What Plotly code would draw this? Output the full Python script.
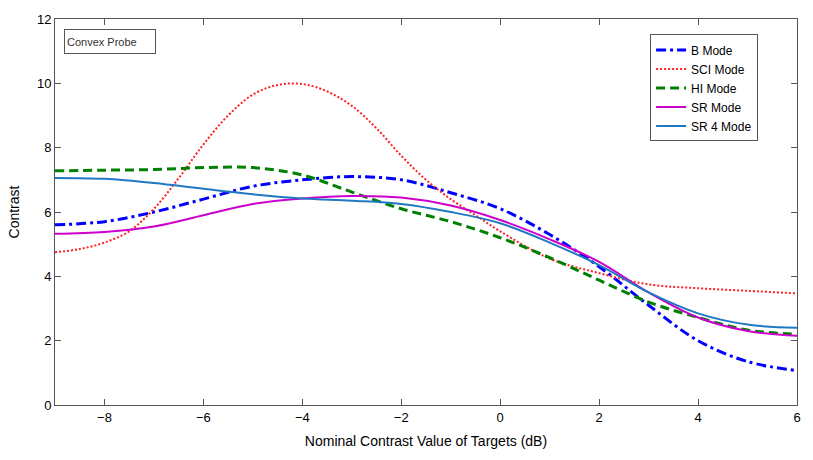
import plotly.graph_objects as go

# Nominal contrast of targets (dB)
x_db = [-9, -8, -7, -6, -5, -4, -3, -2, -1, 0, 1, 2, 3, 4, 5, 6]

# Measured contrast for each imaging mode
b_mode = [5.6, 5.7, 6.0, 6.4, 6.8, 7.0, 7.1, 7.0, 6.6, 6.1, 5.3, 4.3, 3.1, 2.0, 1.35, 1.07]
hi_mode = [7.28, 7.3, 7.32, 7.38, 7.38, 7.15, 6.62, 6.1, 5.7, 5.2, 4.58, 3.88, 3.2, 2.72, 2.33, 2.2]
sr_mode = [5.32, 5.38, 5.55, 5.9, 6.25, 6.42, 6.5, 6.45, 6.2, 5.75, 5.15, 4.45, 3.5, 2.72, 2.3, 2.15]
sr4_mode = [7.06, 7.03, 6.9, 6.72, 6.55, 6.42, 6.35, 6.25, 6.0, 5.65, 5.05, 4.35, 3.5, 2.85, 2.5, 2.4]

# SCI mode sampled more finely around its peak
x_sci = [-9, -8.5, -8, -7.5, -7, -6.5, -6, -5.5, -5, -4.5, -4, -3.5, -3, -2.5, -2,
         -1.5, -1, -0.5, 0, 1, 2, 3, 4, 5, 6]
sci_mode = [4.75, 4.85, 5.05, 5.4, 6.1, 7.05, 8.1, 9.0, 9.65, 9.95, 9.98, 9.75, 9.3, 8.6, 7.75,
            7.0, 6.4, 5.9, 5.4, 4.55, 4.1, 3.75, 3.63, 3.55, 3.47]

x_ticks = [-8, -6, -4, -2, 0, 2, 4, 6]
x_tick_text = ["\u22128", "\u22126", "\u22124", "\u22122", "0", "2", "4", "6"]
y_ticks = [0, 2, 4, 6, 8, 10, 12]

series = [
    ("B Mode", x_db, b_mode, "#0000ff", 3, "10px,4px,3px,4px"),
    ("SCI Mode", x_sci, sci_mode, "#ff2020", 2, "2px,2px"),
    ("HI Mode", x_db, hi_mode, "#008000", 3, "9px,5px"),
    ("SR Mode", x_db, sr_mode, "#cc00cc", 2, "solid"),
    ("SR 4 Mode", x_db, sr4_mode, "#1e78c2", 2, "solid"),
]

FONT = "Liberation Sans, Arial, sans-serif"

fig = go.Figure()
for name, xs, ys, color, width, dash in series:
    fig.add_trace(go.Scatter(
        x=xs, y=ys, mode="lines", name=name,
        line=dict(color=color, width=width, dash=dash, shape="spline", smoothing=1.0),
    ))

axis_common = dict(
    showgrid=False, zeroline=False, showline=True, linecolor="#555555", linewidth=1,
    mirror="ticks", ticks="inside", ticklen=6, tickcolor="#555555",
    tickfont=dict(family=FONT, size=13, color="black"),
)

fig.update_xaxes(
    range=[-9, 6], tickvals=x_ticks, ticktext=x_tick_text,
    title=dict(text="Nominal Contrast Value of Targets (dB)",
               font=dict(family=FONT, size=14, color="black"), standoff=12),
    **axis_common,
)
fig.update_yaxes(
    range=[0, 12], tickvals=y_ticks,
    title=dict(text="Contrast", font=dict(family=FONT, size=14, color="black"), standoff=14),
    **axis_common,
)

fig.add_annotation(
    xref="paper", yref="paper", x=0.0115, y=0.974, xanchor="left", yanchor="top",
    text="Convex Probe", showarrow=False, align="left",
    width=86, height=19, borderpad=2,
    bordercolor="#555555", borderwidth=1, bgcolor="white",
    font=dict(family=FONT, size=11, color="#333333"),
)

fig.update_layout(
    width=813, height=460,
    margin=dict(l=55, r=16, t=14, b=55),
    paper_bgcolor="white", plot_bgcolor="white",
    showlegend=True,
    legend=dict(
        x=0.802, y=0.96, xanchor="left", yanchor="top",
        bgcolor="white", bordercolor="#555555", borderwidth=1,
        font=dict(family=FONT, size=12, color="black"),
        tracegroupgap=0, itemwidth=30,
    ),
)

fig.write_html("out.html")
